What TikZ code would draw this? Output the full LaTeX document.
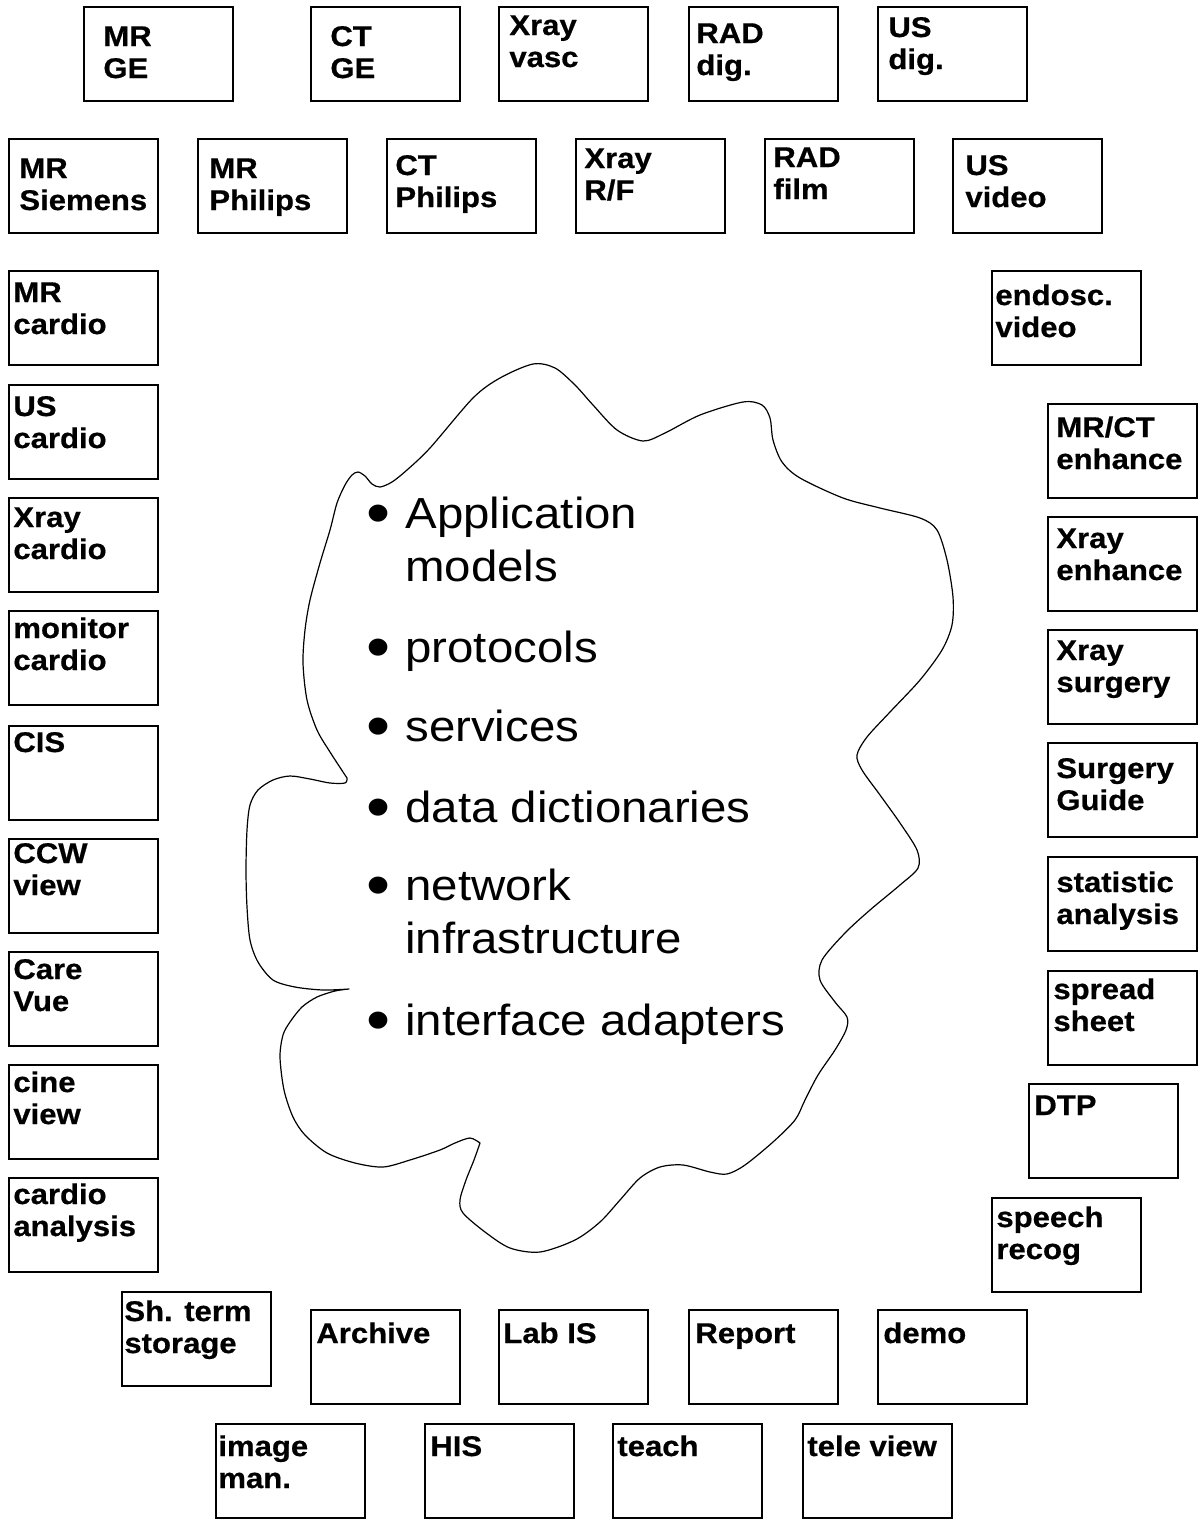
\documentclass[tikz,border=0pt]{standalone}
\usepackage{fontspec}
\newfontfamily\arialfont{Liberation Sans}[FakeStretch=1.09, BoldFeatures={FakeBold=0.6}]
\newcommand{\bx}[6]{%
  \node[bxs] (#1) at (#2,#3) {};
  \node[lbl] (#1-t) at (#4,#5) {\begin{tabular}[t]{@{}l@{}}#6\end{tabular}};
}
\newcommand{\bul}{\makebox[19.5pt][l]{\raisebox{-3.4pt}{\scalebox{1.45}{\textbullet}}}}
\begin{document}
\begin{tikzpicture}[x=0.5pt,y=-0.5pt,
  bxs/.style={draw, line width=1pt, minimum width=74.5pt, minimum height=47pt, anchor=north west, inner sep=0pt, outer sep=0pt},
  lbl/.style={anchor=base west, inner sep=0pt, font=\arialfont\bfseries\fontsize{14.25}{16}\selectfont},
  itm/.style={anchor=base west, inner sep=0pt, font=\arialfont\fontsize{21.75}{26.5}\selectfont},
  cloudline/.style={line width=0.6pt, line join=round}]
\useasboundingbox (0,0) rectangle (1200,1522);

% top row
\bx{mrge}{84}{7}{103}{46}{MR\\GE}
\bx{ctge}{311}{7}{330}{46}{CT\\GE}
\bx{xvasc}{499}{7}{509}{35}{Xray\\vasc}
\bx{raddig}{689}{7}{696}{43}{RAD\\dig.}
\bx{usdig}{878}{7}{888}{37}{US\\dig.}
% second row
\bx{mrsie}{9}{139}{19}{178}{MR\\Siemens}
\bx{mrphi}{198}{139}{209}{178}{MR\\Philips}
\bx{ctphi}{387}{139}{395}{175}{CT\\Philips}
\bx{xrf}{576}{139}{584}{168}{Xray\\R/F}
\bx{radfilm}{765}{139}{773}{167}{RAD\\film}
\bx{usvid}{953}{139}{965}{175}{US\\video}
% left column
\bx{mrcar}{9}{271}{13}{302}{MR\\cardio}
\bx{uscar}{9}{385}{13}{416}{US\\cardio}
\bx{xcar}{9}{498}{13}{527}{Xray\\cardio}
\bx{moncar}{9}{611}{13}{638}{monitor\\cardio}
\bx{cis}{9}{726}{13}{752}{CIS}
\bx{ccw}{9}{839}{13}{863}{CCW\\view}
\bx{care}{9}{952}{13}{979}{Care\\Vue}
\bx{cine}{9}{1065}{13}{1092}{cine\\view}
\bx{canal}{9}{1178}{13}{1204}{cardio\\analysis}
% right column
\bx{endo}{992}{271}{995}{305}{endosc.\\video}
\bx{mrct}{1048}{404}{1056}{437}{MR/CT\\enhance}
\bx{xenh}{1048}{517}{1056}{548}{Xray\\enhance}
\bx{xsur}{1048}{630}{1056}{660}{Xray\\surgery}
\bx{surg}{1048}{743}{1056}{778}{Surgery\\Guide}
\bx{stat}{1048}{857}{1056}{892}{statistic\\analysis}
\bx{spread}{1048}{971}{1053}{999}{spread\\sheet}
\bx{dtp}{1029}{1084}{1034}{1115}{DTP}
\bx{speech}{992}{1198}{996}{1227}{speech\\recog}
% bottom rows
\bx{shterm}{122}{1292}{124}{1321}{Sh. term\\storage}
\bx{archive}{311}{1310}{316}{1343}{Archive}
\bx{labis}{499}{1310}{503}{1343}{Lab IS}
\bx{report}{689}{1310}{695}{1343}{Report}
\bx{demo}{878}{1310}{883}{1343}{demo}
\bx{imgman}{216}{1424}{218}{1456}{image\\man.}
\bx{his}{425}{1424}{430}{1456}{HIS}
\bx{teach}{613}{1424}{617}{1456}{teach}
\bx{tele}{803}{1424}{807}{1456}{tele view}

% cloud
\draw[cloudline] plot[smooth] coordinates {
 (347,778) (330,752) (317,730) (307,700) (303,663) (305,630) (310,600) (320,563)
 (330,530) (337,503) (345,485) (352,475) (358,472) (365,476) (372,484) (380,487)
 (392,482) (407,470) (430,448) (473,398) (500,378) (533,364) (555,368) (575,385)
 (593,405) (617,430) (643,441) (665,433) (700,415) (743,402) (762,405) (770,418)
 (773,440) (782,462) (800,478) (843,498) (880,508) (920,518) (937,530) (947,560)
 (953,597) (952,625) (942,650) (920,680) (890,712) (867,737) (857,755) (862,770)
 (880,795) (900,823) (917,850) (918,868) (900,885) (870,910) (845,933) (822,960)
 (820,980) (835,1002) (847,1017) (846,1030) (835,1050) (818,1075) (805,1100)
 (795,1120) (773,1142) (745,1165) (727,1174) (710,1172) (683,1165) (660,1167)
 (640,1178) (620,1200) (600,1222) (575,1240) (540,1252) (510,1248) (485,1232)
 (463,1213) (460,1200) (466,1180) (474,1160) (480,1143)}
 -- plot[smooth] coordinates {
 (480,1143) (470,1138) (455,1143) (440,1150) (410,1160) (383,1167) (355,1163)
 (327,1153) (305,1135) (293,1117) (284,1090) (280,1057) (283,1035) (290,1022)
 (302,1007) (317,997) (335,991) (349,989)}
 -- plot[smooth] coordinates {
 (349,989) (323,990) (295,987) (273,980) (258,962) (250,940) (247,907) (246,870)
 (247,830) (250,805) (258,790) (273,780) (290,776) (310,779) (330,783) (345,783)
 (347,778)} -- cycle;

% bullet items
\node[itm] (it1) at (366,528) {\bul\begin{tabular}[t]{@{}l@{}}Application\\models\end{tabular}};
\node[itm] (it2) at (366,662) {\bul protocols};
\node[itm] (it3) at (366,741) {\bul services};
\node[itm] (it4) at (366,822) {\bul data dictionaries};
\node[itm] (it5) at (366,900) {\bul\begin{tabular}[t]{@{}l@{}}network\\infrastructure\end{tabular}};
\node[itm] (it6) at (366,1035) {\bul interface adapters};
\end{tikzpicture}
\end{document}
